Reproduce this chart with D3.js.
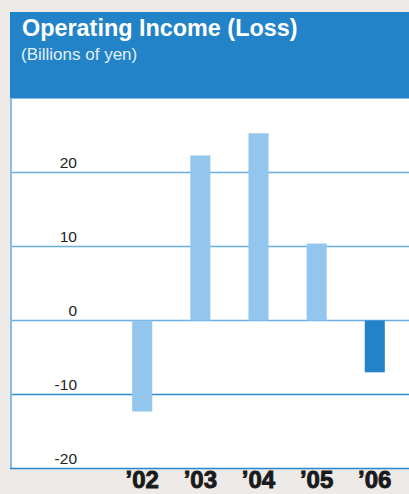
<!DOCTYPE html>
<meta charset="utf-8">
<style>
  body { margin: 0; background: #eeeae8; }
  svg { display: block; font-family: "Liberation Sans", Arial, Helvetica, sans-serif; }
  .title { fill: #fff; font-size: 23.4px; font-weight: bold; }
  .subtitle { fill: #e3eff9; font-size: 17px; }
  .tick-label { fill: #222; font-size: 15.5px; }
  .year { fill: #1a1a1a; font-size: 24px; font-weight: bold; stroke: #1a1a1a; stroke-width: 0.9px; }
</style>
<body>
<script src="https://cdn.jsdelivr.net/npm/d3@7"></script>
<script>
  // chart data
  var years = ["\u201902", "\u201903", "\u201904", "\u201905", "\u201906"];
  var income = [-12.3, 22.3, 25.3, 10.4, -7.0];
  var yTicks = [20, 10, 0, -10, -20];

  var W = 409, H = 494;
  var panel = { left: 10, top: 12, headerBottom: 98, bottom: 469 };

  var svg = d3.select("body").append("svg")
    .attr("width", W)
    .attr("height", H);

  // blue header
  svg.append("rect")
    .attr("x", panel.left).attr("y", panel.top)
    .attr("width", W - panel.left).attr("height", panel.headerBottom - panel.top)
    .attr("fill", "#2283c8");

  svg.append("text").attr("class", "title")
    .attr("x", 22).attr("y", 36)
    .text("Operating Income (Loss)");

  svg.append("text").attr("class", "subtitle")
    .attr("x", 21).attr("y", 60)
    .text("(Billions of yen)");

  // white chart area
  svg.append("rect")
    .attr("x", panel.left).attr("y", panel.headerBottom)
    .attr("width", W - panel.left).attr("height", panel.bottom - panel.headerBottom)
    .attr("fill", "#fff");

  // left border
  svg.append("line")
    .attr("x1", panel.left + 1).attr("x2", panel.left + 1)
    .attr("y1", panel.headerBottom).attr("y2", panel.bottom)
    .attr("stroke", "#86bde8").attr("stroke-width", 2);

  svg.append("line")
    .attr("x1", panel.left).attr("x2", W)
    .attr("y1", panel.headerBottom + 0.5).attr("y2", panel.headerBottom + 0.5)
    .attr("stroke", "#86bde8").attr("stroke-width", 1);

  // scales
  var y = d3.scaleLinear().domain([-20, 20]).range([468.5, 172.5]);
  var x = d3.scaleBand().domain(years).range([113, 404]).paddingInner(0.655).paddingOuter(0.33);

  // gridlines
  svg.selectAll(".grid")
    .data(yTicks.filter(function (d) { return d > -20; }))
    .enter().append("line")
    .attr("class", "grid")
    .attr("x1", panel.left + 2).attr("x2", W)
    .attr("y1", function (d) { return y(d); })
    .attr("y2", function (d) { return y(d); })
    .attr("stroke", function (d) { return d == -10 ? "#2f8bcc" : "#6aaee2"; })
    .attr("stroke-width", 1.5);

  // bottom line
  svg.append("line")
    .attr("x1", panel.left).attr("x2", W)
    .attr("y1", y(-20)).attr("y2", y(-20))
    .attr("stroke", "#2a86c9").attr("stroke-width", 1.5);

  // tick labels
  svg.selectAll(".tick-label")
    .data(yTicks)
    .enter().append("text")
    .attr("class", "tick-label")
    .attr("text-anchor", "end")
    .attr("x", 77)
    .attr("y", function (d) { return y(d) - 4.5; })
    .text(function (d) { return d; });

  // bars
  svg.selectAll(".bar")
    .data(income)
    .enter().append("rect")
    .attr("class", "bar")
    .attr("x", function (d, i) { return x(years[i]); })
    .attr("width", x.bandwidth())
    .attr("y", function (d) { return y(Math.max(0, d)); })
    .attr("height", function (d) { return Math.abs(y(d) - y(0)); })
    .attr("fill", function (d, i) { return i == years.length - 1 ? "#2283c8" : "#93c6ec"; });

  // year labels
  svg.selectAll(".year")
    .data(years)
    .enter().append("text")
    .attr("class", "year")
    .attr("text-anchor", "middle")
    .attr("x", function (d) { return x(d) + x.bandwidth() / 2; })
    .attr("y", 488)
    .text(function (d) { return d; });
</script>
</body>
